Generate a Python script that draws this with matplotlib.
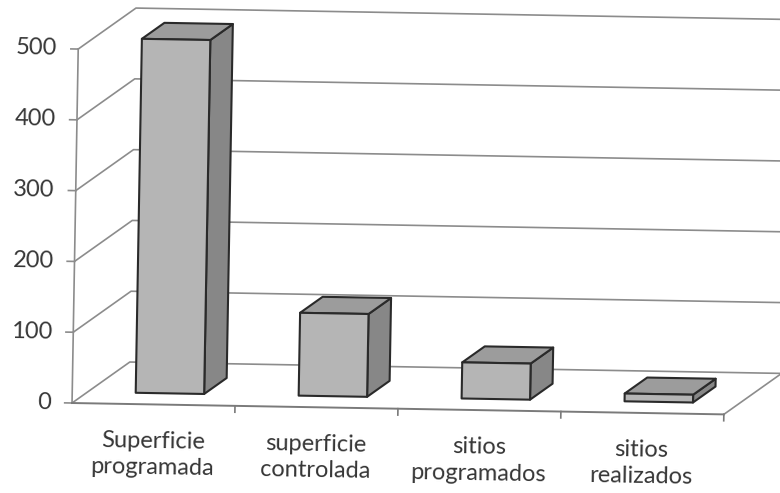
import matplotlib
matplotlib.use("Agg")
import matplotlib.pyplot as plt
from matplotlib.patches import Polygon
from matplotlib.transforms import Affine2D

plt.rcParams['font.family'] = ['Lato', 'DejaVu Sans']

# data
categories = ["Superficie\nprogramada", "superficie\ncontrolada",
              "sitios\nprogramados", "sitios\nrealizados"]
values = [500, 117, 51, 11]
yticks = [0, 100, 200, 300, 400, 500]

# pseudo 3d geometry (excel style oblique view)
DEPTH_DX = 0.35     # category units for full depth
DEPTH_DV = 59.3     # value units for full depth
BAR_X0, BAR_X1 = 0.295, 0.715
BAR_D0, BAR_D1 = 0.27, 0.66
TILT = -1.0         # the scan is slightly rotated

def P(x, v, d=0.0):
    return (x + d * DEPTH_DX, v + d * DEPTH_DV)

fig = plt.figure(figsize=(7.8, 4.93), dpi=100)
ax = fig.add_axes([0, 0, 1, 1])
ax.set_xlim(-0.442, 4.344)
ax.set_ylim(-127.1, 569.2)
ax.set_axis_off()

cx, cy = ax.transData.transform((0, 0))
tr = ax.transData + Affine2D().rotate_deg_around(cx, cy, TILT)

grid_c = '#8c8c8c'
text_c = '#363636'
n = len(categories)

# walls: side + back gridlines
for v in yticks:
    xs, ys = zip(P(0, v), P(0, v, 1), P(n, v, 1))
    ax.plot(xs, ys, color=grid_c, lw=1.2, transform=tr, zorder=1)
    # tick on value axis
    ax.plot([-0.045, 0], [v, v], color=grid_c, lw=1.2, transform=tr, zorder=1)
    ax.text(-0.128, v, str(v), ha='right', va='center', fontsize=17,
            color=text_c, rotation=TILT, rotation_mode='anchor', transform=tr)

# value axis and floor
ax.plot([0, 0], [0, yticks[-1]], color=grid_c, lw=1.2, transform=tr, zorder=1)
ax.plot([0, n], [0, 0], color='#7a7a7a', lw=1.4, transform=tr, zorder=1)
xs, ys = zip(P(n, 0), P(n, 0, 1))
ax.plot(xs, ys, color=grid_c, lw=1.2, transform=tr, zorder=1)
for k in range(1, n + 1):
    ax.plot([k, k], [0, -9], color='#7a7a7a', lw=1.2, transform=tr, zorder=1)

# bars
for k, (lab, h) in enumerate(zip(categories, values)):
    x0, x1 = k + BAR_X0, k + BAR_X1
    front = [P(x0, 0, BAR_D0), P(x1, 0, BAR_D0), P(x1, h, BAR_D0), P(x0, h, BAR_D0)]
    side = [P(x1, 0, BAR_D0), P(x1, 0, BAR_D1), P(x1, h, BAR_D1), P(x1, h, BAR_D0)]
    top = [P(x0, h, BAR_D0), P(x1, h, BAR_D0), P(x1, h, BAR_D1), P(x0, h, BAR_D1)]
    for pts, fc in ((side, '#878787'), (top, '#9c9c9c'), (front, '#b5b5b5')):
        ax.add_patch(Polygon(pts, closed=True, facecolor=fc, edgecolor='#2a2a2a',
                             lw=1.5, joinstyle='round', transform=tr, zorder=3))
    ax.text(k + 0.5, -37, lab, ha='center', va='top', fontsize=17,
            color=text_c, linespacing=1.32, rotation=TILT,
            rotation_mode='anchor', transform=tr)

fig.savefig("out.png", dpi=100, facecolor='white')
